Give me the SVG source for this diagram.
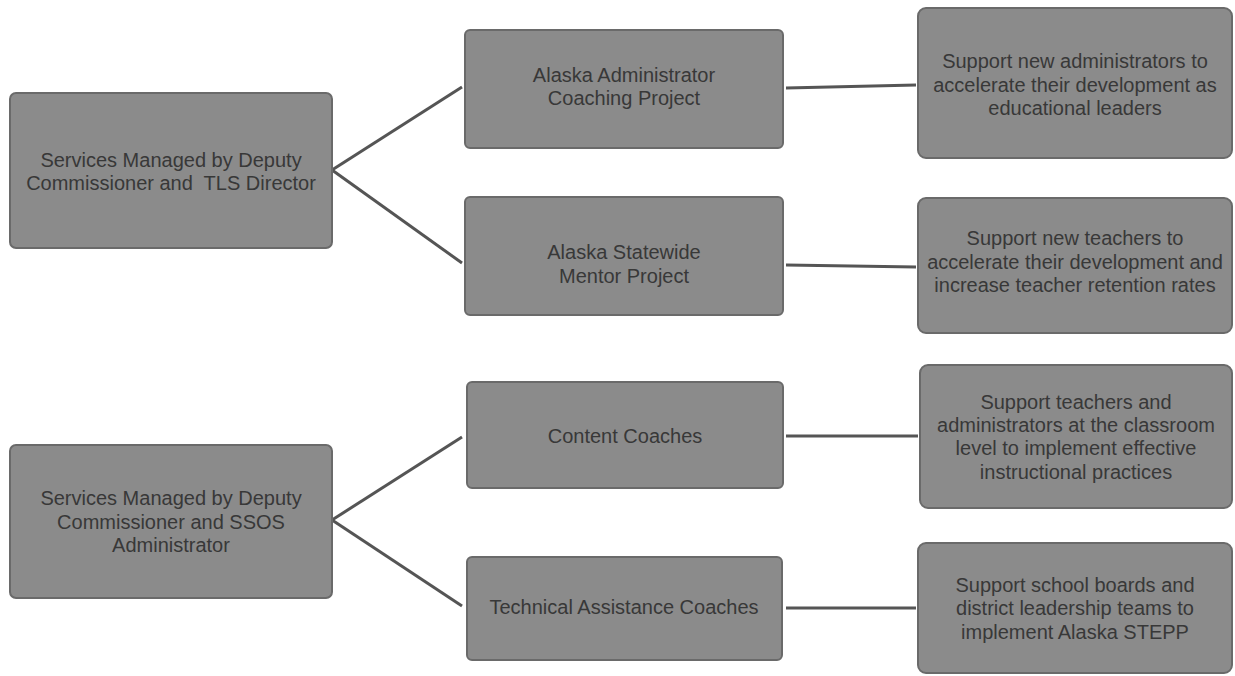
<svg xmlns="http://www.w3.org/2000/svg" width="1235" height="676" viewBox="0 0 1235 676">
<style>
.box{fill:#8b8b8b;stroke:#6a6a6a;stroke-width:2}
.t{font-family:"Liberation Sans",Arial,sans-serif;font-size:20px;fill:#383838;text-anchor:middle}
.c{stroke:#555555;stroke-width:3;fill:none}
</style>
<rect width="1235" height="676" fill="#ffffff"/>
<g id="connectors">
<line class="c" x1="332" y1="170" x2="462" y2="87"/>
<line class="c" x1="332" y1="170" x2="462" y2="263"/>
<line class="c" x1="332" y1="520" x2="462" y2="437"/>
<line class="c" x1="332" y1="520" x2="462" y2="606"/>
<line class="c" x1="786" y1="88" x2="916" y2="85"/>
<line class="c" x1="786" y1="265" x2="916" y2="267"/>
<line class="c" x1="786" y1="436" x2="918" y2="436"/>
<line class="c" x1="786" y1="608" x2="916" y2="608"/>
</g>
<g id="n-tls">
<rect class="box" x="10" y="93" width="322" height="155" rx="6"/>
<text class="t" x="171" y="167">Services Managed by Deputy</text>
<text class="t" x="171" y="190">Commissioner and&#160; TLS Director</text>
</g>
<g id="n-ssos">
<rect class="box" x="10" y="445" width="322" height="153" rx="6"/>
<text class="t" x="171" y="505">Services Managed by Deputy</text>
<text class="t" x="171" y="529">Commissioner and SSOS</text>
<text class="t" x="171" y="552">Administrator</text>
</g>
<g id="n-aacp">
<rect class="box" x="465" y="30" width="318" height="118" rx="5"/>
<text class="t" x="624" y="82">Alaska Administrator</text>
<text class="t" x="624" y="105">Coaching Project</text>
</g>
<g id="n-asmp">
<rect class="box" x="465" y="197" width="318" height="118" rx="5"/>
<text class="t" x="624" y="259">Alaska Statewide</text>
<text class="t" x="624" y="283">Mentor Project</text>
</g>
<g id="n-content">
<rect class="box" x="467" y="382" width="316" height="106" rx="5"/>
<text class="t" x="625" y="443">Content Coaches</text>
</g>
<g id="n-tech">
<rect class="box" x="467" y="557" width="315" height="103" rx="5"/>
<text class="t" x="624" y="614">Technical Assistance Coaches</text>
</g>
<g id="n-r1">
<rect class="box" x="918" y="8" width="314" height="150" rx="8"/>
<text class="t" x="1075" y="68">Support new administrators to</text>
<text class="t" x="1075" y="92">accelerate their development as</text>
<text class="t" x="1075" y="115">educational leaders</text>
</g>
<g id="n-r2">
<rect class="box" x="918" y="198" width="314" height="135" rx="8"/>
<text class="t" x="1075" y="245">Support new teachers to</text>
<text class="t" x="1075" y="269">accelerate their development and</text>
<text class="t" x="1075" y="292">increase teacher retention rates</text>
</g>
<g id="n-r3">
<rect class="box" x="920" y="365" width="312" height="143" rx="8"/>
<text class="t" x="1076" y="409">Support teachers and</text>
<text class="t" x="1076" y="432">administrators at the classroom</text>
<text class="t" x="1076" y="455">level to implement effective</text>
<text class="t" x="1076" y="479">instructional practices</text>
</g>
<g id="n-r4">
<rect class="box" x="918" y="543" width="314" height="130" rx="8"/>
<text class="t" x="1075" y="592">Support school boards and</text>
<text class="t" x="1075" y="615">district leadership teams to</text>
<text class="t" x="1075" y="639">implement Alaska STEPP</text>
</g>
</svg>
